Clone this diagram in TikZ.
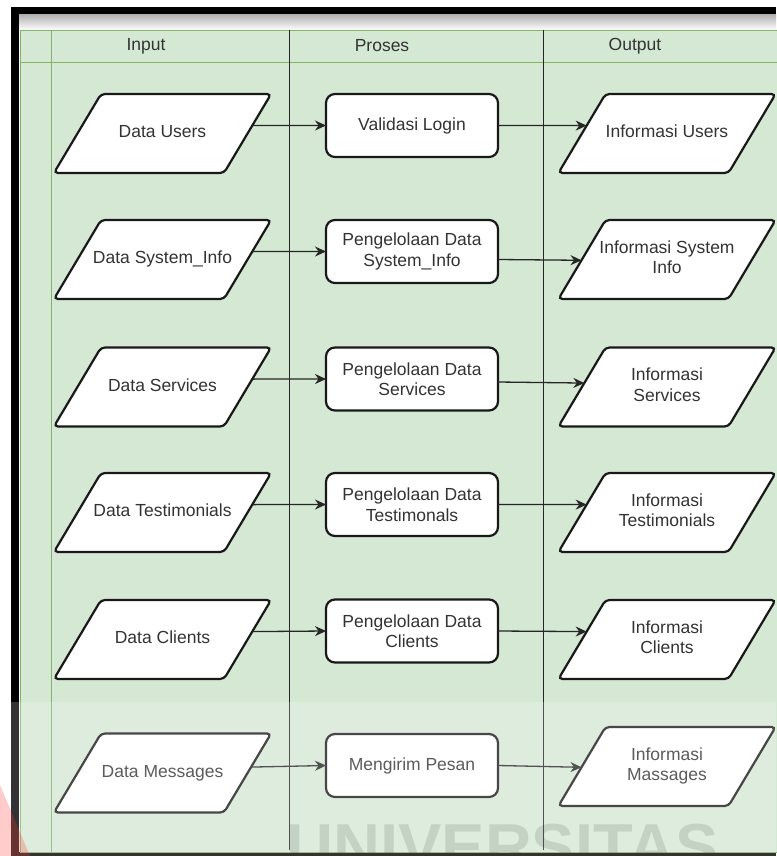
\documentclass[tikz,border=0pt]{standalone}
\usepackage{fontspec}
\setmainfont{Liberation Sans}
\usetikzlibrary{shapes.geometric,arrows.meta,calc}
\definecolor{lanegreen}{HTML}{D5E8D4}
\definecolor{laneline}{HTML}{82B366}
\definecolor{txtgray}{HTML}{333333}
\newcommand{\boxfont}{\fontsize{17.5}{20.5}\selectfont}
% text body of a data shape: 123 wide, 79 high, centred
\newcommand{\dtxt}[1]{\vbox to 79pt{\vss\hbox to 123pt{\hss\begin{tabular}{@{}c@{}}#1\end{tabular}\hss}\vss}}

\begin{document}
\begin{tikzpicture}[x=1pt,y=-1pt,
	datashape/.style={trapezium, trapezium left angle=59.2, trapezium right angle=120.8,
		minimum width=0pt, minimum height=0pt,
		inner sep=0pt, outer sep=0pt, draw=black!90, line width=2.2pt,
		rounded corners=4pt, fill=white, text=txtgray, font=\boxfont},
	procbox/.style={rectangle, minimum width=172pt, minimum height=63pt,
		inner sep=0pt, outer sep=0pt, draw=black!90, line width=2.2pt,
		rounded corners=9pt, fill=white, align=center, text=txtgray, font=\boxfont},
	lanehead/.style={text=txtgray, font=\boxfont},
	flow/.style={-{Stealth[length=11pt,width=10pt]}, line width=1.3pt, black!85}]
	\useasboundingbox (0,0) rectangle (776,856);

	%%  Frame  %%%%%%%%
	\fill[white] (0,0) rectangle (776,856);
	\fill[black] (11,7) rectangle (776,15);
	\fill[black] (11,7) rectangle (19,856);
	\fill[black] (19,852) rectangle (776,856);
	\shade[top color=gray!60, bottom color=white] (19,15) rectangle (776,30);

	%%  Lanes  %%%%%%%%
	\draw[laneline, fill=lanegreen] (20,30) rectangle (778,852);
	\draw[laneline] (20,62) -- (778,62);
	\draw[laneline] (51,30) -- (51,852);
	\draw[black!85] (289,30) -- (289,850);
	\draw[black!85] (543,30) -- (543,850);
	\node[lanehead] (hin) at (146,46) {Input};
	\node[lanehead] (hproc) at (382,46) {Proses};
	\node[lanehead] (hout) at (635,46) {Output};

	%%  Input  %%%%%%%%
	\node[datashape] (in1) at (162.5,133.5) {\dtxt{Data Users}};
	\node[datashape] (in2) at (162.5,259.5) {\dtxt{Data System\_Info}};
	\node[datashape] (in3) at (162.5,387) {\dtxt{Data Services}};
	\node[datashape] (in4) at (162.5,512.5) {\dtxt{Data Testimonials}};
	\node[datashape] (in5) at (162.5,639.5) {\dtxt{Data Clients}};
	\node[datashape] (in6) at (162.5,773) {\dtxt{Data Messages}};

	%%  Proses  %%%%%%%%
	\node[procbox] (pr1) at (412,125.5) {Validasi Login};
	\node[procbox] (pr2) at (412,251.5) {Pengelolaan Data\\System\_Info};
	\node[procbox] (pr3) at (412,379) {Pengelolaan Data\\Services};
	\node[procbox] (pr4) at (412,504.5) {Pengelolaan Data\\Testimonals};
	\node[procbox] (pr5) at (412,631) {Pengelolaan Data\\Clients};
	\node[procbox] (pr6) at (412,765.5) {Mengirim Pesan};

	%%  Output  %%%%%%%%
	\node[datashape] (out1) at (667,133.5) {\dtxt{Informasi Users}};
	\node[datashape] (out2) at (667,259.5) {\dtxt{Informasi System\\Info}};
	\node[datashape] (out3) at (667,387) {\dtxt{Informasi\\Services}};
	\node[datashape] (out4) at (667,512.5) {\dtxt{Informasi\\Testimonials}};
	\node[datashape] (out5) at (667,639.5) {\dtxt{Informasi\\Clients}};
	\node[datashape] (out6) at (667,766.5) {\dtxt{Informasi\\Massages}};

	%%  Arrows  %%%%%%%%
	\draw[flow] ($(in1.bottom right corner)!0.6!(in1.top right corner)$) -- (pr1.west);
	\draw[flow] ($(in2.bottom right corner)!0.6!(in2.top right corner)$) -- (pr2.west);
	\draw[flow] ($(in3.bottom right corner)!0.6!(in3.top right corner)$) -- (pr3.west);
	\draw[flow] ($(in4.bottom right corner)!0.6!(in4.top right corner)$) -- (pr4.west);
	\draw[flow] ($(in5.bottom right corner)!0.6!(in5.top right corner)$) -- (pr5.west);
	\draw[flow] ($(in6.bottom right corner)!0.575!(in6.top right corner)$) -- (pr6.west);
	\draw[flow] (pr1.east) -- ($(out1.bottom left corner)!0.6!(out1.top left corner)$);
	\draw[flow] ([yshift=-8pt]pr2.east) -- ($(out2.bottom left corner)!0.49!(out2.top left corner)$);
	\draw[flow] ([yshift=-3pt]pr3.east) -- ($(out3.bottom left corner)!0.55!(out3.top left corner)$);
	\draw[flow] (pr4.east) -- ($(out4.bottom left corner)!0.6!(out4.top left corner)$);
	\draw[flow] (pr5.east) -- ($(out5.bottom left corner)!0.6!(out5.top left corner)$);
	\draw[flow] (pr6.east) -- ($(out6.bottom left corner)!0.49!(out6.top left corner)$);

	%%  Watermark  %%%%%%%%
	\fill[red, opacity=0.25] (0,785) -- (30,856) -- (0,856) -- cycle;
	\node[anchor=base, text=black, opacity=0.14, font=\fontsize{65}{70}\bfseries\selectfont] (mark) at (502.5,869.5) {UNIVERSITAS};
	\fill[white, opacity=0.2] (0,702) rectangle (776,856);
	%%%%%%%%%%%%%%%
\end{tikzpicture}
\end{document}
